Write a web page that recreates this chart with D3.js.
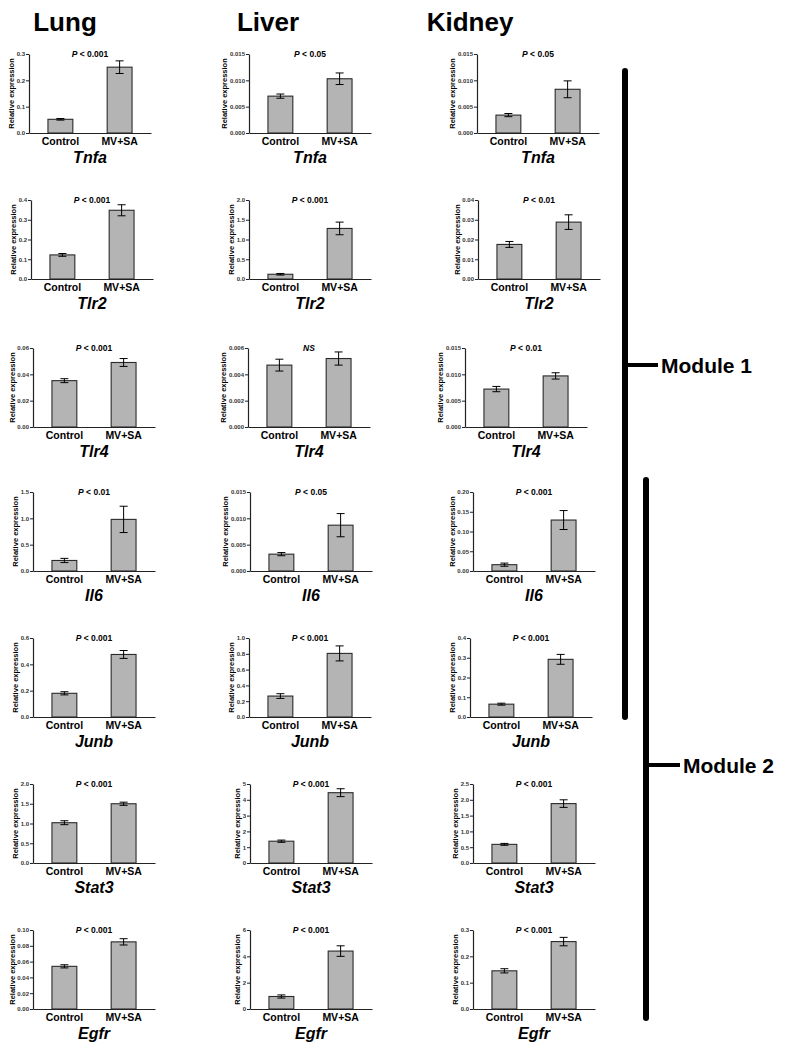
<!DOCTYPE html>
<html><head><meta charset="utf-8">
<script src="https://cdn.jsdelivr.net/npm/d3@7"></script>
<style>
body{margin:0;background:#fff}
svg{display:block}
text{font-family:"Liberation Sans",Arial,sans-serif}
</style>
</head><body>
<svg width="787" height="1050"></svg>
<script>
const tissues=["Lung","Liver","Kidney"];
const genes=["Tnfa","Tlr2","Tlr4","Il6","Junb","Stat3","Egfr"];
const groups=["Control","MV+SA"];

// [control, MV+SA] per gene
const lungMean=[[0.052,0.250],[0.122,0.348],[0.0352,0.049],[0.20,0.98],[0.180,0.475],[1.02,1.50],[0.054,0.085]];
const lungErr=[[0.003,0.024],[0.007,0.028],[0.0015,0.003],[0.04,0.25],[0.012,0.03],[0.05,0.04],[0.002,0.004]];
const liverMean=[[0.0070,0.0103],[0.12,1.28],[0.0047,0.0052],[0.0032,0.0087],[0.265,0.805],[1.38,4.45],[0.95,4.4]];
const liverErr=[[0.0004,0.0011],[0.02,0.16],[0.00045,0.0005],[0.0003,0.0022],[0.03,0.095],[0.07,0.25],[0.12,0.4]];
const kidneyMean=[[0.0034,0.0083],[0.0175,0.0288],[0.0072,0.0097],[0.016,0.129],[0.065,0.292],[0.59,1.88],[0.145,0.256]];
const kidneyErr=[[0.0003,0.0016],[0.0015,0.0037],[0.0005,0.0006],[0.004,0.024],[0.005,0.025],[0.03,0.12],[0.008,0.016]];

const pLabels=[
  ["P < 0.001","P < 0.05","P < 0.05"],
  ["P < 0.001","P < 0.001","P < 0.01"],
  ["P < 0.001","NS","P < 0.01"],
  ["P < 0.01","P < 0.05","P < 0.001"],
  ["P < 0.001","P < 0.001","P < 0.001"],
  ["P < 0.001","P < 0.001","P < 0.001"],
  ["P < 0.001","P < 0.001","P < 0.001"]];

const yMax=[[0.3,0.015,0.015],[0.4,2,0.04],[0.06,0.006,0.015],[1.5,0.015,0.2],[0.6,1.0,0.4],[2,5,2.5],[0.1,6,0.3]];
const yStep=[[0.1,0.005,0.005],[0.1,0.5,0.01],[0.02,0.002,0.005],[0.5,0.005,0.05],[0.2,0.2,0.1],[0.5,1,0.5],[0.02,2,0.1]];
const yFmt=[[".1f",".3f",".3f"],[".1f",".1f",".2f"],[".2f",".3f",".3f"],[".1f",".3f",".2f"],[".1f",".1f",".1f"],[".1f","d",".1f"],[".2f","d",".1f"]];

const modules=["Module 1","Module 2"];

// layout
const rowTop=[54,200,348,492,638,784,930];
const plotH=79, plotW=122;
const colX=[[29,249,477],[31,249,478],[33,248,465],[33,250,473],[33,249,470],[33,250,473],[33,250,473]];
const means=[lungMean,liverMean,kidneyMean], errs=[lungErr,liverErr,kidneyErr];
const titleX=[65,268,470];

const svg=d3.select("svg");

svg.selectAll("text.tissue").data(tissues).join("text")
  .attr("class","tissue")
  .attr("x",(d,i)=>titleX[i]).attr("y",31)
  .attr("text-anchor","middle")
  .attr("font-size",26).attr("font-weight","bold")
  .text(d=>d);

genes.forEach((gene,r)=>{
  tissues.forEach((tis,c)=>{
    const x0=colX[r][c], top=rowTop[r], bot=top+plotH;
    const g=svg.append("g");
    const y=d3.scaleLinear().domain([0,yMax[r][c]]).range([bot,top]);
    const x=d3.scaleBand().domain(groups).range([x0,x0+plotW]).paddingInner(0.58).paddingOuter(0.32);
    const vals=groups.map((k,i)=>({k,m:means[c][r][i],e:errs[c][r][i]}));

    g.selectAll("rect").data(vals).join("rect")
      .attr("x",d=>x(d.k)).attr("width",x.bandwidth())
      .attr("y",d=>y(d.m)).attr("height",d=>bot-y(d.m))
      .attr("fill","#b4b4b4").attr("stroke","#2a2a2a").attr("stroke-width",1.1);

    const eb=g.selectAll("g.eb").data(vals).join("g").attr("class","eb")
      .attr("stroke","#000").attr("stroke-width",1);
    eb.append("line")
      .attr("x1",d=>x(d.k)+x.bandwidth()/2).attr("x2",d=>x(d.k)+x.bandwidth()/2)
      .attr("y1",d=>y(d.m-d.e)).attr("y2",d=>y(d.m+d.e));
    [1,-1].forEach(s=>{
      eb.append("line")
        .attr("x1",d=>x(d.k)+x.bandwidth()/2-4).attr("x2",d=>x(d.k)+x.bandwidth()/2+4)
        .attr("y1",d=>y(d.m+s*d.e)).attr("y2",d=>y(d.m+s*d.e));
    });

    const ticks=d3.range(0,yMax[r][c]+yStep[r][c]/2,yStep[r][c]);
    const ya=g.append("g").attr("transform",`translate(${x0},0)`)
      .call(d3.axisLeft(y).tickValues(ticks).tickSize(3).tickSizeOuter(0).tickFormat(d3.format(yFmt[r][c])));
    ya.select(".domain").attr("stroke","#222").attr("stroke-width",1.2);
    ya.selectAll(".tick line").attr("stroke","#222").attr("stroke-width",1);
    ya.selectAll(".tick text").attr("font-size",6).attr("font-weight","bold").attr("fill","#333")
      .attr("font-family","Liberation Sans, Arial, sans-serif").attr("x",-4);
    let tw=0;
    ya.selectAll(".tick text").each(function(){tw=Math.max(tw,this.getComputedTextLength());});

    const xa=g.append("g").attr("transform",`translate(0,${bot})`)
      .call(d3.axisBottom(x).tickSize(0).tickSizeOuter(0).tickFormat(""));
    xa.select(".domain").attr("stroke","#222").attr("stroke-width",1.2);

    g.selectAll("text.cat").data(groups).join("text").attr("class","cat")
      .attr("x",d=>x(d)+x.bandwidth()/2).attr("y",bot+11.5)
      .attr("text-anchor","middle").attr("font-size",10.5).attr("font-weight","bold")
      .text(d=>d);

    const cx=(x(groups[0])+x(groups[1])+x.bandwidth())/2;

    g.append("text")
      .attr("transform",`translate(${x0-tw-6.5},${(top+bot)/2}) rotate(-90)`)
      .attr("text-anchor","middle").attr("font-size",7.5).attr("font-weight","bold")
      .text("Relative expression");

    const pt=g.append("text").attr("x",cx).attr("y",top+3)
      .attr("text-anchor","middle").attr("font-size",8.5).attr("font-weight","bold");
    const pl=pLabels[r][c];
    if(pl.startsWith("P")){
      pt.append("tspan").attr("font-style","italic").text("P");
      pt.append("tspan").text(pl.slice(1));
    } else {
      pt.append("tspan").attr("font-style","italic").text(pl);
    }

    g.append("text").attr("x",cx).attr("y",bot+30)
      .attr("text-anchor","middle").attr("font-size",16).attr("font-weight","bold").attr("font-style","italic")
      .text(gene);
  });
});

// module brackets
const modSpec=[{x:625,y1:71,y2:717,ty:365,tx2:658},{x:646,y1:480,y2:1018,ty:765,tx2:680}];
modules.forEach((name,i)=>{
  const m=modSpec[i];
  const gm=svg.append("g").attr("stroke","#000").attr("stroke-width",6).attr("stroke-linecap","round");
  gm.append("line").attr("x1",m.x).attr("x2",m.x).attr("y1",m.y1).attr("y2",m.y2);
  gm.append("line").attr("x1",m.x).attr("x2",m.tx2).attr("y1",m.ty).attr("y2",m.ty).attr("stroke-width",4).attr("stroke-linecap","butt");
  svg.append("text").attr("x",m.tx2+3).attr("y",m.ty+7.5)
    .attr("font-size",21).attr("font-weight","bold").text(name);
});
</script>
</body></html>
